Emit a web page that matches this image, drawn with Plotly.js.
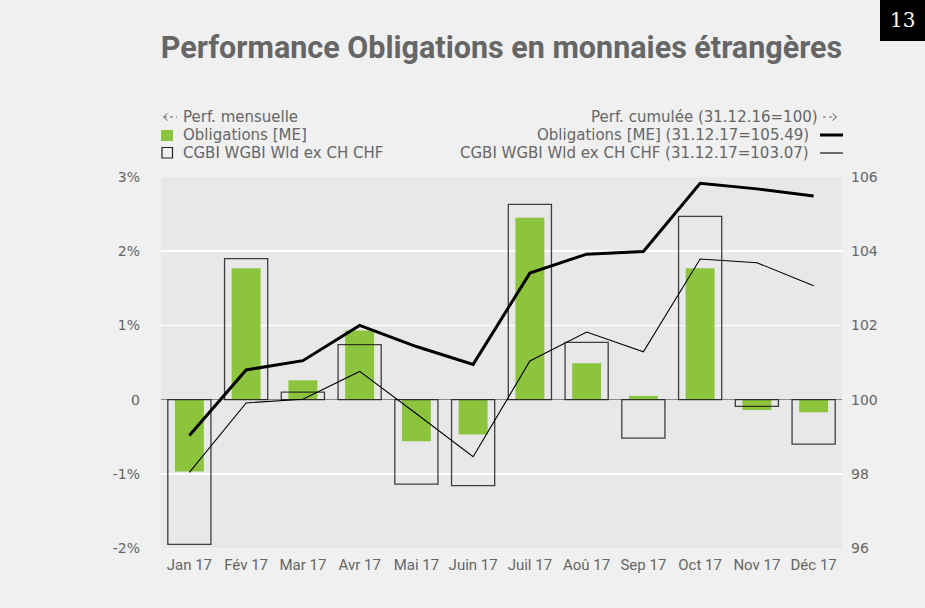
<!DOCTYPE html>
<html>
<head>
<meta charset="utf-8">
<script src="https://cdn.plot.ly/plotly-3.0.1.min.js"></script>
<style>
html,body{margin:0;padding:0;background:#f0f0f0;}
#chart{width:925px;height:608px;}
</style>
</head>
<body>
<div id="chart"></div>
<script>
var months = ["Jan 17","Fév 17","Mar 17","Avr 17","Mai 17","Juin 17","Juil 17","Aoû 17","Sep 17","Oct 17","Nov 17","Déc 17"];
var oblMonthly = [-0.97, 1.77, 0.26, 0.93, -0.56, -0.47, 2.45, 0.49, 0.05, 1.77, -0.14, -0.17];
var cgbiMonthly = [-1.95, 1.90, 0.10, 0.74, -1.14, -1.16, 2.63, 0.77, -0.52, 2.47, -0.09, -0.60];
var oblCum = [99.03, 100.80, 101.05, 102.00, 101.43, 100.95, 103.41, 103.92, 103.99, 105.83, 105.68, 105.49];
var cgbiCum = [98.04, 99.91, 100.01, 100.76, 99.62, 98.46, 101.04, 101.82, 101.29, 103.79, 103.69, 103.07];
var leftTickVals = [-2, -1, 0, 1, 2, 3];
var leftTickText = ["-2%", "-1%", "0", "1%", "2%", "3%"];
var rightTickVals = [96, 98, 100, 102, 104, 106];

var L = 161, R = 842, T = 177, B = 548, W = 925, H = 608;
function px(x){ return (x - L) / (R - L); }
function py(y){ return (B - y) / (B - T); }

var grey = "#666666";
var f = {family: "DejaVu Sans, Verdana, sans-serif", size: 14, color: grey};
var fl = {family: "DejaVu Sans, Verdana, sans-serif", size: 15, color: grey};

var traces = [
  {type: "bar", x: months, y: oblMonthly, width: 0.51, marker: {color: "#8cc43e", line: {width: 0}}, hoverinfo: "skip"},
  {type: "bar", x: months, y: cgbiMonthly, width: 0.76, marker: {color: "rgba(0,0,0,0)", line: {color: "rgba(20,20,20,0.8)", width: 1.3}}, hoverinfo: "skip"},
  {type: "scatter", mode: "lines", x: months, y: oblCum, yaxis: "y2", line: {color: "#000", width: 3}, hoverinfo: "skip"},
  {type: "scatter", mode: "lines", x: months, y: cgbiCum, yaxis: "y2", line: {color: "#000", width: 1.1}, hoverinfo: "skip"}
];

var annotations = [
  {xref: "paper", yref: "paper", x: px(181), y: py(117), text: "Perf. mensuelle", showarrow: false, xanchor: "left", yanchor: "middle", font: fl},
  {xref: "paper", yref: "paper", x: px(181), y: py(135), text: "Obligations [ME]", showarrow: false, xanchor: "left", yanchor: "middle", font: fl},
  {xref: "paper", yref: "paper", x: px(181), y: py(153), text: "CGBI WGBI Wld ex CH CHF", showarrow: false, xanchor: "left", yanchor: "middle", font: fl},
  {xref: "paper", yref: "paper", x: px(820), y: py(117), text: "Perf. cumulée (31.12.16=100)", showarrow: false, xanchor: "right", yanchor: "middle", font: fl},
  {xref: "paper", yref: "paper", x: px(811), y: py(135), text: "Obligations [ME] (31.12.17=105.49)", showarrow: false, xanchor: "right", yanchor: "middle", font: fl},
  {xref: "paper", yref: "paper", x: px(811), y: py(153), text: "CGBI WGBI Wld ex CH CHF (31.12.17=103.07)", showarrow: false, xanchor: "right", yanchor: "middle", font: fl},
  {xref: "paper", yref: "paper", x: px(902), y: py(20), text: "13", showarrow: false, xanchor: "center", yanchor: "middle", font: {family: "DejaVu Serif, Liberation Serif, serif", size: 20, color: "#fff"}}
];

var arrowLine = {color: grey, width: 1};
var shapes = [
  // left dashed arrow
  {type: "line", xref: "paper", yref: "paper", x0: px(164), x1: px(177), y0: py(117), y1: py(117), line: {color: grey, width: 1, dash: "dot"}},
  {type: "path", xref: "paper", yref: "paper", path: "M" + px(167.5) + "," + py(113.5) + " L" + px(163.5) + "," + py(117) + " L" + px(167.5) + "," + py(120.5), line: arrowLine},
  // right dashed arrow
  {type: "line", xref: "paper", yref: "paper", x0: px(823), x1: px(836), y0: py(117), y1: py(117), line: {color: grey, width: 1, dash: "dot"}},
  {type: "path", xref: "paper", yref: "paper", path: "M" + px(832.5) + "," + py(113.5) + " L" + px(836.5) + "," + py(117) + " L" + px(832.5) + "," + py(120.5), line: arrowLine},
  {type: "rect", xref: "paper", yref: "paper", x0: px(161), x1: px(173), y0: py(141), y1: py(130), fillcolor: "#8cc43e", line: {width: 0}},
  {type: "rect", xref: "paper", yref: "paper", x0: px(162), x1: px(172.5), y0: py(158), y1: py(147.5), fillcolor: "rgba(0,0,0,0)", line: {color: "#222", width: 1.2}},
  {type: "line", xref: "paper", yref: "paper", x0: px(820), x1: px(843), y0: py(135), y1: py(135), line: {color: "#000", width: 3}},
  {type: "line", xref: "paper", yref: "paper", x0: px(820), x1: px(843), y0: py(153), y1: py(153), line: {color: "#000", width: 1.1}},
  {type: "rect", xref: "paper", yref: "paper", x0: px(880), x1: px(925), y0: py(41), y1: py(0), fillcolor: "#000", line: {width: 0}, layer: "above"}
];

var layout = {
  width: W, height: H,
  paper_bgcolor: "#f0f0f0",
  plot_bgcolor: "#e8e8e8",
  margin: {l: L, r: W - R, t: T, b: H - B, pad: 0},
  showlegend: false,
  barmode: "overlay",
  title: {text: "Performance Obligations en monnaies étrangères", x: 0.5, xref: "paper", y: 1 - 47 / H, yref: "container", xanchor: "center", yanchor: "middle",
          font: {family: "Roboto, sans-serif", size: 30.5, color: grey, weight: 700}},
  xaxis: {type: "category", showgrid: false, zeroline: false, showline: false, ticks: "", tickfont: {family: "Roboto, sans-serif", size: 15, color: grey}, ticklabelstandoff: 6, fixedrange: true},
  yaxis: {range: [-2, 3], tickvals: leftTickVals, ticktext: leftTickText, showgrid: true, gridcolor: "#ffffff", gridwidth: 1.5,
          zeroline: true, zerolinecolor: "#8a8a8a", zerolinewidth: 1.3, showline: false, ticks: "", tickfont: f, ticklabelstandoff: 20, fixedrange: true},
  yaxis2: {range: [96, 106], tickvals: rightTickVals, overlaying: "y", side: "right", showgrid: false, zeroline: false, showline: false, ticks: "", tickfont: f, ticklabelstandoff: 8, fixedrange: true},
  annotations: annotations,
  shapes: shapes
};

Plotly.newPlot("chart", traces, layout, {displayModeBar: false, staticPlot: true});
</script>
</body>
</html>
